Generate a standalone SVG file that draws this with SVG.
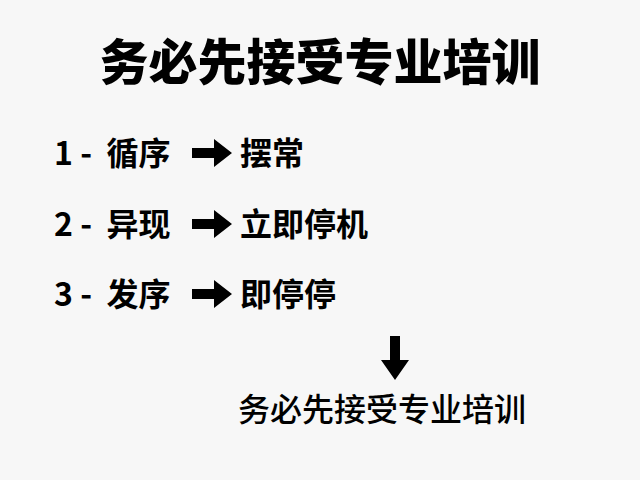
<svg xmlns="http://www.w3.org/2000/svg" width="640" height="480" viewBox="0 0 640 480">
<style>
text{font-family:"Noto Sans CJK SC","Noto Sans",sans-serif;fill:#000}
.t{font-size:49px;font-weight:900}
.r{font-size:32px;font-weight:700}
.b{font-size:32px;font-weight:500}
.a{fill:#000}
</style>
<defs><path id="ra" d="M0,-5 H22 V-14 L40,0 L22,14 V5 H0 Z"/></defs>
<rect width="640" height="480" fill="#f7f7f7"/>
<g id="title"><text class="t" x="320" y="80" text-anchor="middle">务必先接受专业培训</text></g>
<g id="row1"><text class="r" x="54" y="165" xml:space="preserve">1 -  循序</text></g>
<g id="row1r"><text class="r" x="240" y="165">摆常</text></g>
<g id="row2"><text class="r" x="54" y="236" xml:space="preserve">2 -  异现</text></g>
<g id="row2r"><text class="r" x="240" y="236">立即停机</text></g>
<g id="row3"><text class="r" x="54" y="306" xml:space="preserve">3 -  发序</text></g>
<g id="row3r"><text class="r" x="240" y="306">即停停</text></g>
<g id="bottom"><text class="b" x="382" y="421" text-anchor="middle">务必先接受专业培训</text></g>
<g id="connectors" class="a">
<use href="#ra" x="192" y="153"/>
<use href="#ra" x="192" y="224"/>
<use href="#ra" x="192" y="294"/>
<path d="M390,336 H400 V360 H409 L395,380 L381,360 H390 Z"/>
</g>
</svg>
